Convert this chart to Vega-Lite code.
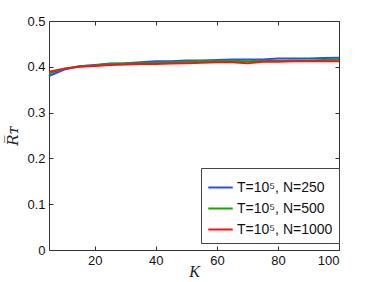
{
  "$schema": "https://vega.github.io/schema/vega-lite/v6.json",
  "autosize": {"type": "none"},
  "width": 290,
  "height": 229,
  "padding": {"left": 49, "top": 21, "right": 35, "bottom": 32},
  "background": "white",
  "config": {
    "view": {"stroke": "#333", "strokeWidth": 1},
    "font": "Liberation Sans",
    "axis": {"grid": false, "domain": false, "tickColor": "#333", "labelColor": "#111", "labelFontSize": 13, "labelFont": "Liberation Sans"}
  },
  "data": {"values": [
    {"K":5,"s":"T=10⁵, N=250","v":0.380},{"K":10,"s":"T=10⁵, N=250","v":0.394},{"K":15,"s":"T=10⁵, N=250","v":0.401},{"K":20,"s":"T=10⁵, N=250","v":0.404},{"K":25,"s":"T=10⁵, N=250","v":0.407},{"K":30,"s":"T=10⁵, N=250","v":0.408},{"K":35,"s":"T=10⁵, N=250","v":0.410},{"K":40,"s":"T=10⁵, N=250","v":0.412},{"K":45,"s":"T=10⁵, N=250","v":0.412},{"K":50,"s":"T=10⁵, N=250","v":0.414},{"K":55,"s":"T=10⁵, N=250","v":0.414},{"K":60,"s":"T=10⁵, N=250","v":0.415},{"K":65,"s":"T=10⁵, N=250","v":0.416},{"K":70,"s":"T=10⁵, N=250","v":0.416},{"K":75,"s":"T=10⁵, N=250","v":0.416},{"K":80,"s":"T=10⁵, N=250","v":0.418},{"K":85,"s":"T=10⁵, N=250","v":0.418},{"K":90,"s":"T=10⁵, N=250","v":0.418},{"K":95,"s":"T=10⁵, N=250","v":0.419},{"K":100,"s":"T=10⁵, N=250","v":0.420},
    {"K":5,"s":"T=10⁵, N=500","v":0.385},{"K":10,"s":"T=10⁵, N=500","v":0.396},{"K":15,"s":"T=10⁵, N=500","v":0.401},{"K":20,"s":"T=10⁵, N=500","v":0.403},{"K":25,"s":"T=10⁵, N=500","v":0.406},{"K":30,"s":"T=10⁵, N=500","v":0.407},{"K":35,"s":"T=10⁵, N=500","v":0.408},{"K":40,"s":"T=10⁵, N=500","v":0.409},{"K":45,"s":"T=10⁵, N=500","v":0.410},{"K":50,"s":"T=10⁵, N=500","v":0.411},{"K":55,"s":"T=10⁵, N=500","v":0.412},{"K":60,"s":"T=10⁵, N=500","v":0.412},{"K":65,"s":"T=10⁵, N=500","v":0.413},{"K":70,"s":"T=10⁵, N=500","v":0.412},{"K":75,"s":"T=10⁵, N=500","v":0.413},{"K":80,"s":"T=10⁵, N=500","v":0.413},{"K":85,"s":"T=10⁵, N=500","v":0.414},{"K":90,"s":"T=10⁵, N=500","v":0.414},{"K":95,"s":"T=10⁵, N=500","v":0.415},{"K":100,"s":"T=10⁵, N=500","v":0.416},
    {"K":5,"s":"T=10⁵, N=1000","v":0.389},{"K":10,"s":"T=10⁵, N=1000","v":0.396},{"K":15,"s":"T=10⁵, N=1000","v":0.400},{"K":20,"s":"T=10⁵, N=1000","v":0.402},{"K":25,"s":"T=10⁵, N=1000","v":0.404},{"K":30,"s":"T=10⁵, N=1000","v":0.405},{"K":35,"s":"T=10⁵, N=1000","v":0.406},{"K":40,"s":"T=10⁵, N=1000","v":0.406},{"K":45,"s":"T=10⁵, N=1000","v":0.407},{"K":50,"s":"T=10⁵, N=1000","v":0.408},{"K":55,"s":"T=10⁵, N=1000","v":0.409},{"K":60,"s":"T=10⁵, N=1000","v":0.410},{"K":65,"s":"T=10⁵, N=1000","v":0.410},{"K":70,"s":"T=10⁵, N=1000","v":0.408},{"K":75,"s":"T=10⁵, N=1000","v":0.411},{"K":80,"s":"T=10⁵, N=1000","v":0.411},{"K":85,"s":"T=10⁵, N=1000","v":0.412},{"K":90,"s":"T=10⁵, N=1000","v":0.412},{"K":95,"s":"T=10⁵, N=1000","v":0.412},{"K":100,"s":"T=10⁵, N=1000","v":0.412}
  ]},
  "layer": [
    {
      "mark": {"type": "line", "strokeWidth": 2},
      "encoding": {
        "x": {"field": "K", "type": "quantitative", "scale": {"domain": [5, 100], "nice": false, "zero": false},
              "axis": {"values": [20, 40, 60, 80, 100], "tickSize": -4, "labelPadding": 8, "title": "K", "titleFont": "Liberation Serif", "titleFontStyle": "italic", "titleFontWeight": "normal", "titleFontSize": 16, "titlePadding": -4, "titleColor": "#222"}},
        "y": {"field": "v", "type": "quantitative", "scale": {"domain": [0, 0.5], "nice": false},
              "axis": {"values": [0, 0.1, 0.2, 0.3, 0.4, 0.5], "labelExpr": "datum.value == 0 ? '0' : format(datum.value, '.1f')", "tickSize": -4, "labelPadding": 8, "title": "R̅ᴛ", "titleFont": "DejaVu Serif", "titleFontStyle": "italic", "titleFontWeight": "normal", "titleFontSize": 15, "titlePadding": 6, "titleColor": "#222"}},
        "color": {"field": "s", "type": "nominal", "sort": ["T=10⁵, N=250", "T=10⁵, N=500", "T=10⁵, N=1000"],
                  "scale": {"domain": ["T=10⁵, N=250", "T=10⁵, N=500", "T=10⁵, N=1000"], "range": ["#2a4cff", "#12a800", "#ff1010"]},
                  "legend": {"title": null, "orient": "none", "legendX": 152, "legendY": 147, "strokeColor": "#444", "fillColor": "white", "padding": 6, "symbolType": "stroke", "symbolSize": 600, "symbolStrokeWidth": 2, "labelFontSize": 14, "labelFont": "Liberation Sans", "labelColor": "#111", "rowPadding": 0, "labelOffset": 3}}
      }
    },
    {
      "mark": {"type": "line", "opacity": 0},
      "encoding": {
        "x": {"field": "K", "type": "quantitative", "axis": {"orient": "top", "values": [20, 40, 60, 80, 100], "tickSize": -4, "labels": false, "title": null}},
        "y": {"field": "v", "type": "quantitative", "axis": {"orient": "right", "values": [0, 0.1, 0.2, 0.3, 0.4, 0.5], "tickSize": -4, "labels": false, "title": null}}
      }
    }
  ],
  "resolve": {"axis": {"x": "independent", "y": "independent"}}
}
